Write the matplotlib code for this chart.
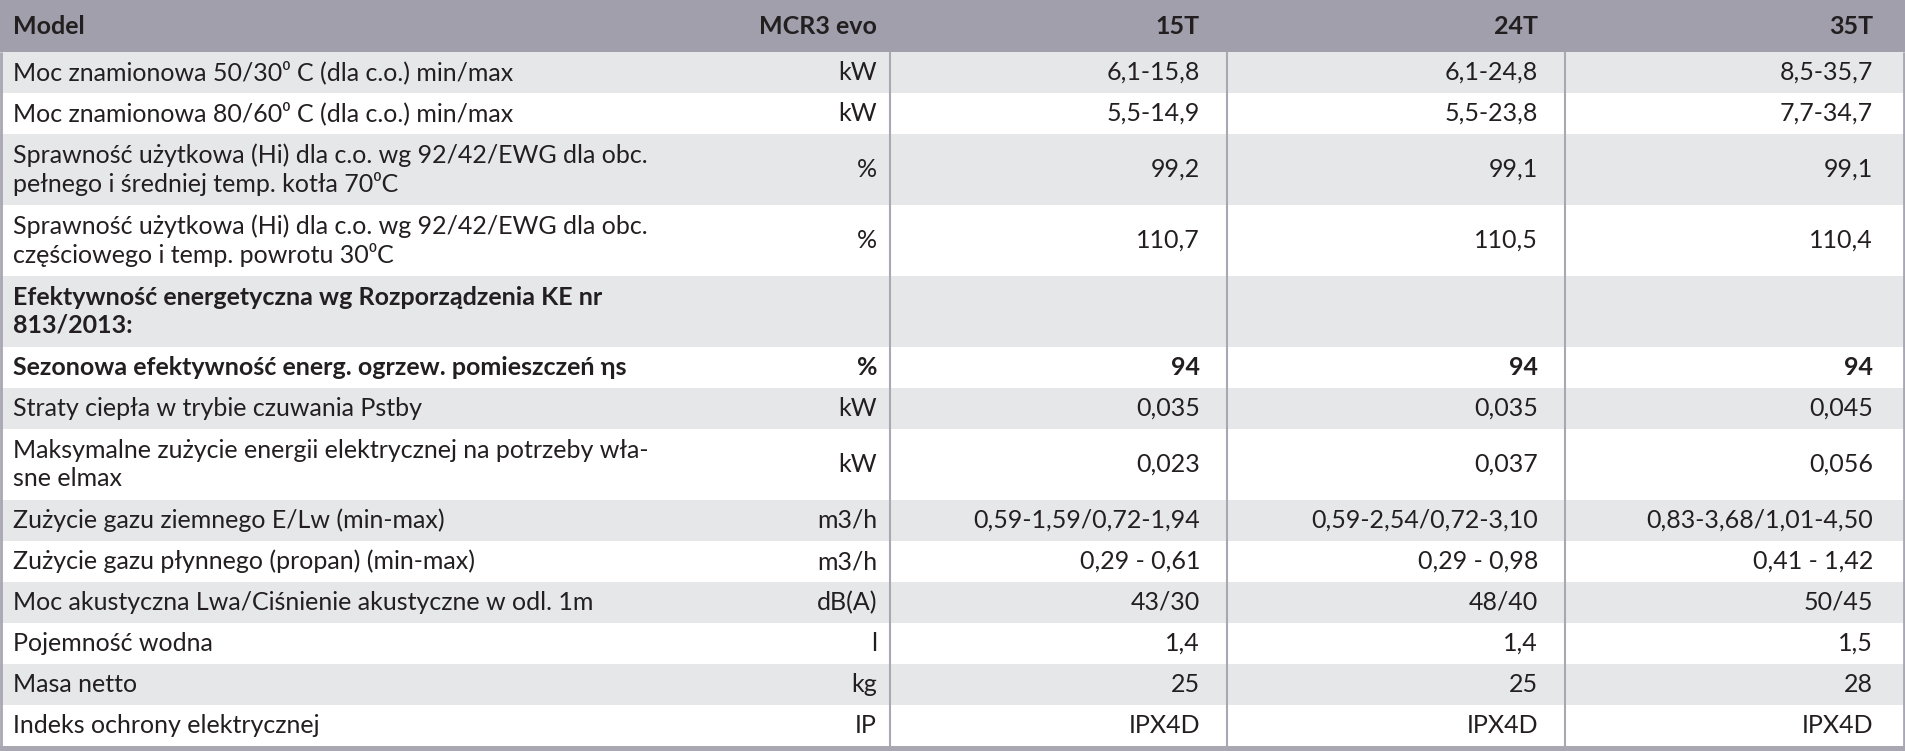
import numpy as np
import matplotlib.pyplot as plt

plt.rcParams['font.family'] = ['Lato', 'DejaVu Sans']

models = ["MCR3 evo", "15T", "24T", "35T"]
labels = [
    "Moc znamionowa 50/30\u2070 C (dla c.o.) min/max",
    "Moc znamionowa 80/60\u2070 C (dla c.o.) min/max",
    "Sprawność użytkowa (Hi) dla c.o. wg 92/42/EWG dla obc.\npełnego i średniej temp. kotła 70\u2070C",
    "Sprawność użytkowa (Hi) dla c.o. wg 92/42/EWG dla obc.\nczęściowego i temp. powrotu 30\u2070C",
    "Efektywność energetyczna wg Rozporządzenia KE nr\n813/2013:",
    "Sezonowa efektywność energ. ogrzew. pomieszczeń ηs",
    "Straty ciepła w trybie czuwania Pstby",
    "Maksymalne zużycie energii elektrycznej na potrzeby wła-\nsne elmax",
    "Zużycie gazu ziemnego E/Lw (min-max)",
    "Zużycie gazu płynnego (propan) (min-max)",
    "Moc akustyczna Lwa/Ciśnienie akustyczne w odl. 1m",
    "Pojemność wodna",
    "Masa netto",
    "Indeks ochrony elektrycznej",
]
units = ["kW", "kW", "%", "%", "", "%", "kW", "kW", "m3/h", "m3/h", "dB(A)", "l", "kg", "IP"]
val_15t = ["6,1-15,8", "5,5-14,9", "99,2", "110,7", "", "94", "0,035", "0,023",
           "0,59-1,59/0,72-1,94", "0,29 - 0,61", "43/30", "1,4", "25", "IPX4D"]
val_24t = ["6,1-24,8", "5,5-23,8", "99,1", "110,5", "", "94", "0,035", "0,037",
           "0,59-2,54/0,72-3,10", "0,29 - 0,98", "48/40", "1,4", "25", "IPX4D"]
val_35t = ["8,5-35,7", "7,7-34,7", "99,1", "110,4", "", "94", "0,045", "0,056",
           "0,83-3,68/1,01-4,50", "0,41 - 1,42", "50/45", "1,5", "28", "IPX4D"]
bold_rows = [4, 5]

# layout (pixels)
W, H = 1905, 751
header_h = 52
single_h, double_h = 41, 71
col_lines = [890, 1227, 1565]
text_right = [877, 1200, 1538, 1873]
left_x = 13
fs = 18

header_col = '#a09fab'
grey_row = '#e6e7e9'
line_col = '#a8a7b2'
text_col = '#231f20'

fig = plt.figure(figsize=(W / 100, H / 100), dpi=100)
ax = fig.add_axes([0, 0, 1, 1])
ax.set_xlim(0, W)
ax.set_ylim(H, 0)
ax.axis('off')

# header
ax.axhspan(0, header_h, color=header_col, lw=0)
ax.text(left_x, header_h / 2, "Model", fontsize=fs, fontweight='bold',
        color=text_col, va='center', ha='left')
for name, xr in zip(models, text_right):
    ax.text(xr, header_h / 2, name, fontsize=fs, fontweight='bold',
            color=text_col, va='center', ha='right')

# body rows
y = header_h
for i, lab in enumerate(labels):
    h = double_h if '\n' in lab else single_h
    if i % 2 == 0:
        ax.axhspan(y, y + h, color=grey_row, lw=0)
    yc = y + h / 2
    w = 'bold' if i in bold_rows else 'normal'
    ax.text(left_x, yc, lab, fontsize=fs, fontweight=w, color=text_col,
            va='center', ha='left', linespacing=1.25)
    cells = [units[i], val_15t[i], val_24t[i], val_35t[i]]
    for txt, xr in zip(cells, text_right):
        ax.text(xr, yc, txt, fontsize=fs, fontweight=w, color=text_col,
                va='center', ha='right')
    y += h

# borders
ax.vlines(col_lines, header_h, y, color=line_col, lw=1.5)
ax.vlines([1, W - 1.5], header_h, y, color=line_col, lw=2)
ax.axhspan(y, H, color=line_col, lw=0)

fig.savefig('out.png', dpi=100)
